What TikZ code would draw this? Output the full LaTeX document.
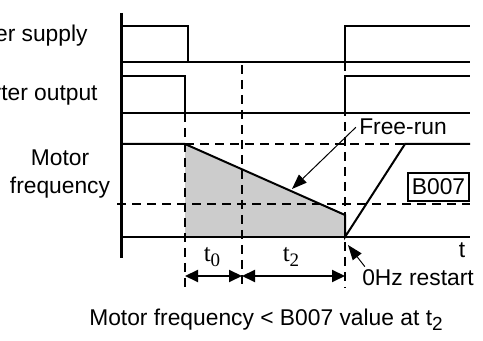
\documentclass[tikz,border=0pt]{standalone}
\usepackage{fontspec}
\setmainfont{Liberation Sans}
\newfontfamily\tfont{Liberation Serif}
\usetikzlibrary{positioning, arrows.meta}

\newcommand{\tsub}[1]{t\raisebox{-2.5pt}{\fontsize{9.5}{9.5}\selectfont #1}}

\begin{document}
\begin{tikzpicture}[
      x=0.5pt, y=-0.5pt,
      font=\fontsize{11.4}{14}\selectfont,
      axis/.style={line width=1.5pt},
      sig/.style={line width=1pt},
      guide/.style={line width=1pt, dash pattern=on 4.5pt off 3pt},
      lbl/.style={inner sep=1.5pt, align=center},
      ptr/.style={line width=0.5pt, -{Triangle[length=7.5pt, width=5.5pt]}},
      dim/.style={line width=1pt,
      {Triangle[length=6.5pt, width=6pt]}-{Triangle[length=6.5pt, width=6pt]}}
    ]
    \useasboundingbox (0,0) rectangle (483,341);

    % free-run area
    \fill[black!20] (185,144) -- (345,215) -- (345,237) -- (185,237) -- cycle;

    % guides
    \draw[guide] (185,113) -- (185,288);
    \draw[guide] (242,65) -- (242,288);
    \draw[guide] (345,62) -- (345,288);
    \draw[guide] (185,144) -- (405,144);
    \draw[guide] (117,204) -- (470,204);

    \draw[axis] (121,13) -- (121,258);

    % power supply
    \draw[sig] (121,62) -- (470,62);
    \draw[sig] (121,26) -| (188,62);
    \draw[sig] (345,62) |- (470,26);

    % inverter output
    \draw[sig] (121,113) -- (470,113);
    \draw[sig] (121,76) -| (185,113);
    \draw[sig] (345,113) |- (470,76);

    % motor frequency
    \draw[sig] (121,237) -- (470,237);
    \draw[sig] (121,144) -- (185,144) -- (345,215) -- (345,237)
    -- (405,144) -- (470,144);

    \node[lbl, anchor=base east] (pwr) at (91,42) {Power supply};
    \node[lbl, anchor=base east] (inv) at (101,101) {Inverter output};
    \node[lbl, anchor=base] (mot) at (60,194) {Motor\\frequency};
    \node[draw, line width=0.8pt, inner sep=2pt, minimum height=14pt]
    (lim) at (438.5,187) {B007};
    \node[lbl, anchor=base] (tax) at (462,258) {t};
    \node[lbl, anchor=base] (frun) at (403,135) {Free-run};
    \node[lbl, anchor=base] (rst) at (418,286) {0Hz restart};
    \node[lbl, anchor=base] (tz) at (212,262) {\fontsize{12.5}{14}\tfont\tsub{0}};
    \node[lbl, anchor=base] (tt) at (291,262) {\fontsize{12.5}{14}\tfont\tsub{2}};
    \node[lbl, anchor=base] (cap) at (266,326)
    {Motor frequency < B007 value at \tsub{2}};

    \coordinate (ramp) at (292,189);
    \coordinate (zero) at (348,245);
    \coordinate (a0) at (185,276);
    \coordinate (a1) at (242,276);
    \coordinate (a2) at (345,276);

    \draw[ptr] (frun.west) -- (ramp);
    \draw[ptr] ([xshift=3pt]rst.north west) -- (zero);
    \draw[dim] (a0) -- (a1);
    \draw[dim] (a1) -- (a2);
  \end{tikzpicture}
\end{document}
